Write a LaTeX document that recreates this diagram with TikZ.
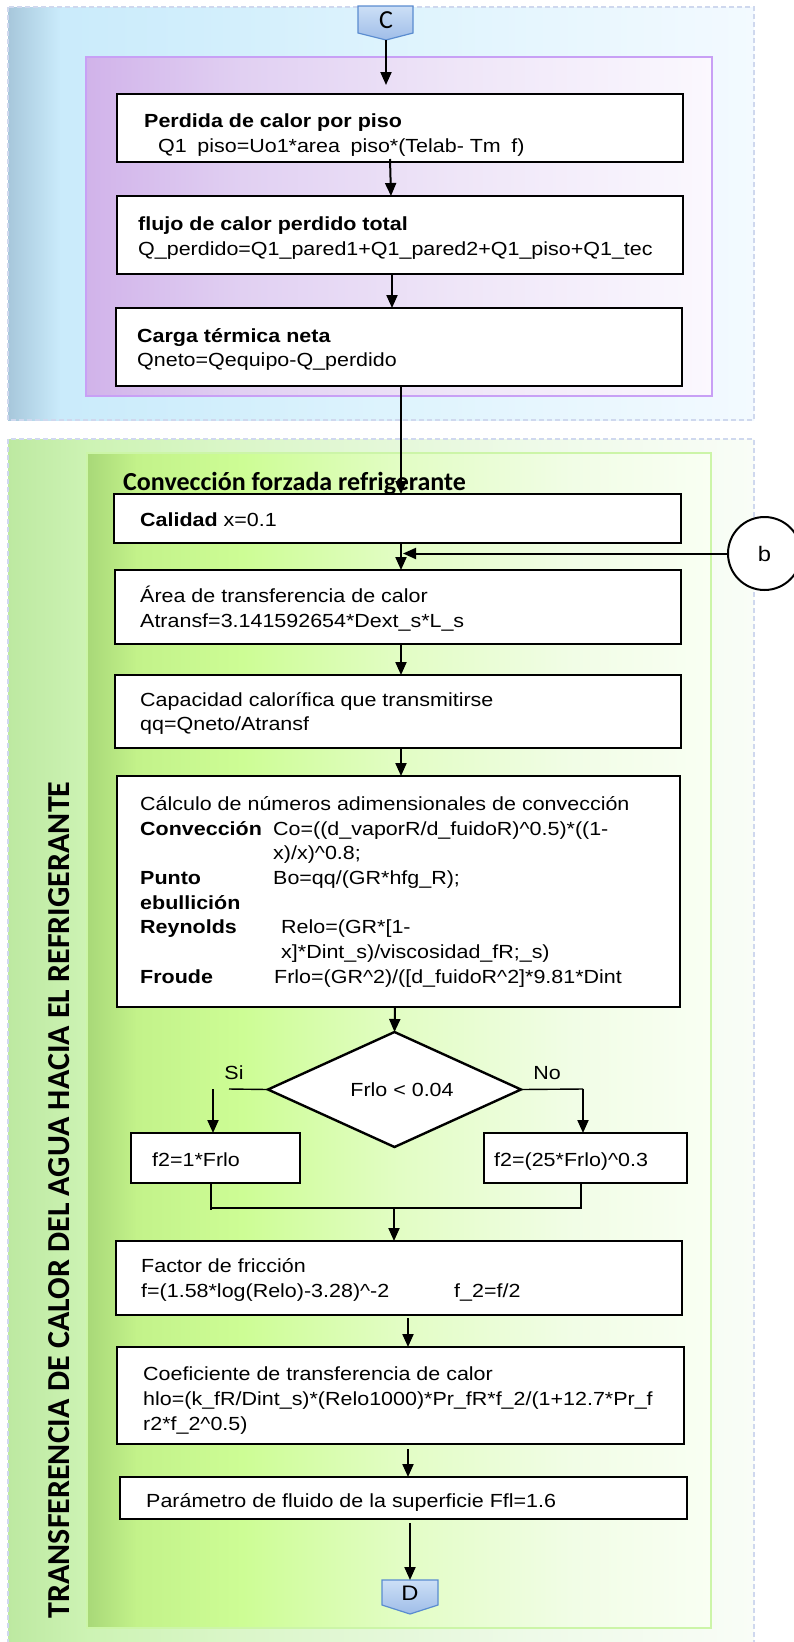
\documentclass[tikz,border=0pt]{standalone}
\usepackage{fontspec}
\usetikzlibrary{arrows.meta,shapes.geometric}
\newfontfamily\arialf[FakeStretch=1.13]{Liberation Sans}
\newfontfamily\calib{Carlito}

% panel colours
\definecolor{bluA}{HTML}{A7C7DB}\definecolor{bluB}{HTML}{CAEBFB}
\definecolor{bluC}{HTML}{D3EFFC}\definecolor{bluD}{HTML}{DDF3FD}
\definecolor{bluE}{HTML}{F3FAFF}
\definecolor{purA}{HTML}{D1B3EA}\definecolor{purB}{HTML}{E1D0F2}
\definecolor{purC}{HTML}{EFE6F8}\definecolor{purD}{HTML}{FBF8FE}
\definecolor{grA}{HTML}{BDE9A1}\definecolor{grB}{HTML}{CDF3B4}
\definecolor{grC}{HTML}{DAF6C8}\definecolor{grD}{HTML}{EEFAE8}
\definecolor{grE}{HTML}{F9FDF7}
\definecolor{giA}{HTML}{A8D878}\definecolor{giB}{HTML}{C3F28A}
\definecolor{giC}{HTML}{CDFD95}\definecolor{giD}{HTML}{E2FDC4}
\definecolor{giE}{HTML}{F1FDE6}\definecolor{giF}{HTML}{F9FFF3}
\definecolor{dashc}{HTML}{CFD8EE}
\definecolor{purEdge}{HTML}{C8A0F5}
\definecolor{grEdge}{HTML}{CCF5A8}
\definecolor{pentTop}{HTML}{CCDFF6}\definecolor{pentBot}{HTML}{9FBDE8}
\definecolor{pentEdge}{HTML}{5A8CD0}

\pgfdeclarehorizontalshading{bluepanel}{100bp}{color(0bp)=(bluA); color(25bp)=(bluA); color(28.5bp)=(bluB); color(40bp)=(bluC); color(50bp)=(bluD); color(75bp)=(bluE); color(100bp)=(bluE)}
\pgfdeclarehorizontalshading{purplepanel}{100bp}{color(0bp)=(purA); color(25bp)=(purA); color(37.5bp)=(purB); color(55bp)=(purC); color(75bp)=(purD); color(100bp)=(purD)}
\pgfdeclarehorizontalshading{greenouter}{100bp}{color(0bp)=(grA); color(25bp)=(grA); color(30.4bp)=(grB); color(40bp)=(grC); color(60bp)=(grD); color(75bp)=(grE); color(100bp)=(grE)}
\pgfdeclarehorizontalshading{greeninner}{100bp}{color(0bp)=(giA); color(25bp)=(giA); color(29bp)=(giB); color(37.5bp)=(giC); color(50bp)=(giD); color(64bp)=(giE); color(75bp)=(giF); color(100bp)=(giF)}

\begin{document}
\begin{tikzpicture}[x=1pt,y=-1pt,
  box/.style={draw=black, line width=2.6pt, fill=white, inner sep=0pt, outer sep=0pt},
  txt/.style={anchor=base west, inner sep=0pt, font=\arialf\fontsize{19}{23}\selectfont},
  ctxt/.style={anchor=base, inner sep=0pt, font=\arialf\fontsize{19}{23}\selectfont},
  arr/.style={line width=2pt, -{Triangle[length=13pt,width=11pt]}},
  thinl/.style={line width=1.4pt},
  panelrule/.style={draw=dashc, line width=1.2pt, dash pattern=on 5pt off 3pt},
  pent/.style={top color=pentTop, bottom color=pentBot, draw=pentEdge, line width=1.2pt}
]
\useasboundingbox (0,0) rectangle (793,1642);

% ---------- upper band: heat losses ----------
\shade[shading=bluepanel] (8,7) rectangle (754,420);
\draw[panelrule] (8,7) rectangle (754,420);
\shade[shading=purplepanel] (86,57) rectangle (712,396);
\draw[purEdge, line width=1.5pt] (86,57) rectangle (712,396);

% ---------- lower band: forced convection ----------
\shade[shading=greenouter] (8,439) rectangle (754,1660);
\draw[panelrule] (8,1660) -- (8,439) -- (754,439) -- (754,1660);
\shade[shading=greeninner] (87,453) rectangle (711,1628);
\draw[grEdge, line width=1.5pt] (87,453) rectangle (711,1628);

\node[rotate=90, inner sep=0pt, font=\calib\bfseries\fontsize{32}{32}\selectfont] (side) at (59,1200)
  {TRANSFERENCIA DE CALOR DEL AGUA HACIA EL REFRIGERANTE};
\node[anchor=base west, inner sep=0pt, font=\calib\bfseries\fontsize{26}{26}\selectfont] (sect) at (123,490)
  {Convección forzada refrigerante};

% ---------- off-page connectors ----------
\shade[pent] (358,6) -- (413,6) -- (413,33) -- (386,40) -- (358,33) -- cycle;
\node[inner sep=0pt, font=\calib\fontsize{26}{26}\selectfont] (C) at (386,20) {C};
\coordinate (Ctip) at (386,40);
\shade[pent] (382,1580) -- (438,1580) -- (438,1605) -- (410,1614) -- (382,1605) -- cycle;
\node[inner sep=0pt, font=\arialf\fontsize{21}{21}\selectfont] (D) at (410,1593) {D};
\coordinate (Dtop) at (410,1580);

% ---------- process boxes ----------
\node[box, minimum width=566pt, minimum height=68pt] (b1) at (400,128) {};
\node[box, minimum width=566pt, minimum height=78pt] (b2) at (400,235) {};
\node[box, minimum width=566pt, minimum height=78pt] (b3) at (399,347) {};
\node[box, minimum width=567pt, minimum height=49pt] (cal) at (397.5,518.5) {};
\node[box, minimum width=566pt, minimum height=74pt] (area) at (398,607) {};
\node[box, minimum width=566pt, minimum height=73pt] (cap) at (398,711.5) {};
\node[box, minimum width=563pt, minimum height=231pt] (calc) at (398.5,891.5) {};
\node[diamond, draw=black, line width=2.4pt, fill=white, inner sep=0pt, outer sep=0pt,
      minimum width=253pt, minimum height=115pt] (dia) at (394.5,1089.5) {};
\node[box, line width=2.4pt, minimum width=169pt, minimum height=50pt] (fa) at (215.5,1158) {};
\node[box, line width=2.4pt, minimum width=203pt, minimum height=50pt] (fb) at (585.5,1158) {};
\node[box, minimum width=566pt, minimum height=74pt] (fric) at (399,1278) {};
\node[box, minimum width=567pt, minimum height=97pt] (coef) at (400.5,1395.5) {};
\node[box, minimum width=567pt, minimum height=42pt] (param) at (403.5,1498) {};
\node[circle, draw=black, line width=2pt, fill=white, inner sep=0pt, outer sep=0pt,
      minimum size=73pt, font=\arialf\fontsize{21}{21}\selectfont] (bc) at (764.5,553.5) {b};

% ---------- box texts ----------
\node[txt] (t1a) at (144,127) {\bfseries Perdida de calor por piso};
\node[txt] (t1b) at (158,152) {Q1\hspace{0.556em}piso=Uo1*area\hspace{0.556em}piso*(Telab- Tm\hspace{0.556em}f)};
\node[txt] (t2a) at (138,230) {\bfseries flujo de calor perdido total};
\node[txt] (t2b) at (138,255) {Q\_perdido=Q1\_pared1+Q1\_pared2+Q1\_piso+Q1\_tec};
\node[txt] (t3a) at (137,342) {\bfseries Carga térmica neta};
\node[txt] (t3b) at (137,366) {Qneto=Qequipo-Q\_perdido};
\node[txt] (t4) at (140,526) {\textbf{Calidad} x=0.1};
\node[txt] (t5a) at (140,602) {Área de transferencia de calor};
\node[txt] (t5b) at (140,627) {Atransf=3.141592654*Dext\_s*L\_s};
\node[txt] (t6a) at (140,706) {Capacidad calorífica que transmitirse};
\node[txt] (t6b) at (140,730) {qq=Qneto/Atransf};
\node[txt] (t7a) at (140,810) {Cálculo de números adimensionales de convección};
\node[txt] (t7b) at (140,835) {\bfseries Convección};
\node[txt] (t7c) at (273,835) {Co=((d\_vaporR/d\_fuidoR)\textasciicircum0.5)*((1-};
\node[txt] (t7d) at (273,859) {x)/x)\textasciicircum0.8;};
\node[txt] (t7e) at (140,884) {\bfseries Punto};
\node[txt] (t7f) at (273,884) {Bo=qq/(GR*hfg\_R);};
\node[txt] (t7g) at (140,909) {\bfseries ebullición};
\node[txt] (t7h) at (140,933) {\bfseries Reynolds};
\node[txt] (t7i) at (281,933) {Relo=(GR*[1-};
\node[txt] (t7j) at (281,958) {x]*Dint\_s)/viscosidad\_fR;\_s)};
\node[txt] (t7k) at (140,983) {\bfseries Froude};
\node[txt] (t7l) at (274,983) {Frlo=(GR\textasciicircum2)/([d\_fuidoR\textasciicircum2]*9.81*Dint};
\node[ctxt] (t8) at (402,1096) {Frlo < 0.04};
\node[ctxt] (si) at (234,1079) {Si};
\node[ctxt] (no) at (547,1079) {No};
\node[txt] (t9) at (152,1166) {f2=1*Frlo};
\node[txt] (t10) at (494,1166) {f2=(25*Frlo)\textasciicircum0.3};
\node[txt] (t11a) at (141,1272) {Factor de fricción};
\node[txt] (t11b) at (141,1297) {f=(1.58*log(Relo)-3.28)\textasciicircum-2};
\node[txt] (t11c) at (454,1297) {f\_2=f/2};
\node[txt] (t12a) at (143,1380) {Coeficiente de transferencia de calor};
\node[txt] (t12b) at (143,1405) {hlo=(k\_fR/Dint\_s)*(Relo1000)*Pr\_fR*f\_2/(1+12.7*Pr\_f};
\node[txt] (t12c) at (143,1430) {r2*f\_2\textasciicircum0.5)};
\node[txt] (t13) at (146,1507) {Parámetro de fluido de la superficie Ffl=1.6};

% ---------- connectors ----------
\draw[arr, shorten >=9pt] (Ctip) -- (Ctip |- b1.north);
\draw[arr] ([xshift=-10pt,yshift=3pt]b1.south) -- ([xshift=-9pt]b2.north);
\draw[arr] ([xshift=-8pt]b2.south) -- ([xshift=-7pt]b3.north);
\draw[arr] ([xshift=2pt]b3.south) -- ([xshift=3.5pt]cal.north);
\draw[arr] ([xshift=3.5pt]cal.south) -- ([xshift=3pt]area.north);
\draw[arr] (bc.west) -- ([xshift=5pt]bc.west -| area.north);
\draw[arr] ([xshift=3pt]area.south) -- ([xshift=3pt]cap.north);
\draw[arr] ([xshift=3pt]cap.south) -- ([xshift=2.5pt]calc.north);
\draw[arr] ([xshift=-3.5pt]calc.south) -- (dia.north);

\coordinate (siend) at (229,1089);
\coordinate (sitop) at (213,1089);
\draw[thinl] (dia.west) -- (siend);
\draw[arr] (sitop) -- (sitop |- fa.north);
\coordinate (nocorner) at (583,1089);
\draw[thinl] (dia.east) -- (nocorner);
\draw[arr] (nocorner) -- (nocorner |- fb.north);

\coordinate (mergeL) at (211,1208);
\coordinate (mergeR) at (581,1208);
\coordinate (mergeC) at (394,1208);
\draw[thinl] (fa.south -| mergeL) -- ([yshift=-2pt]mergeL);
\draw[thinl] (fb.south -| mergeR) -- (mergeR) -- (mergeL);
\draw[arr] (mergeC) -- (mergeC |- fric.north);

\draw[arr] ([xshift=9pt,yshift=-3pt]fric.south) -- ([xshift=7.5pt]coef.north);
\draw[arr] ([xshift=7.5pt,yshift=-5pt]coef.south) -- ([xshift=4.5pt]param.north);
\draw[arr] ([xshift=6.5pt,yshift=-4pt]param.south) -- (Dtop);
\end{tikzpicture}
\end{document}
